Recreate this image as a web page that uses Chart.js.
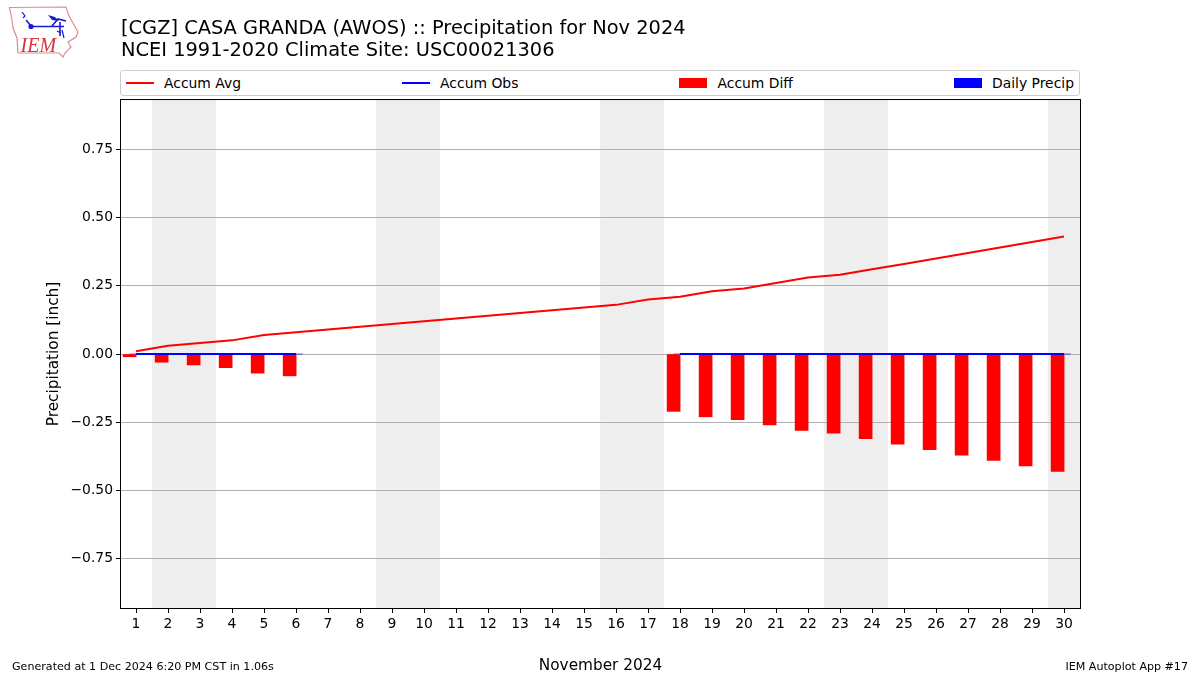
<!DOCTYPE html>
<html>
<head>
<meta charset="utf-8">
<title>Precipitation for Nov 2024</title>
<script src="https://cdn.jsdelivr.net/npm/chart.js@4"></script>
<style>
  html, body { margin: 0; padding: 0; background: #fff; }
  body { font-family: "DejaVu Sans", sans-serif; color: #000; }
  .page { position: relative; width: 1200px; height: 675px; overflow: hidden; }
  #chart { position: absolute; left: 0; top: 0; }
  .logo { position: absolute; left: 0; top: 0; }
  .legend {
    position: absolute; left: 120px; top: 70px; width: 948px; height: 24px;
    padding: 0 5px; border: 1px solid #ccc; border-radius: 3px; background: #fff;
    display: flex; justify-content: space-between; align-items: center; font-size: 13.9px;
  }
  .legend span { display: flex; align-items: center; white-space: pre; }
  .legend i { display: inline-block; width: 28px; margin-right: 10px; }
  .legend i.line { height: 2px; }
  .legend i.box { height: 10px; }
  .foot { position: absolute; top: 660px; font-size: 11.1px; line-height: 13px; }
</style>
</head>
<body>
<div class="page">
  <canvas id="chart" width="1200" height="675"></canvas>
  <svg class="logo" width="90" height="62" viewBox="0 0 90 62">
    <path d="M9.5 7.5 L66 7 L69 16 L73 23 L78 32 L76 37 L68 42 L71 47 L65 53 L63 57 L59 53 L18 53 L17 38 L13 28 L12 20 Z" fill="#fff" stroke="#e08a8f" stroke-width="1.2"/>
    <path d="M31 26.5 L64 26.5 M52 26 L58 19 L66 21 M60 22 L60 36 M26 20 L31 26" fill="none" stroke="#1a1ad6" stroke-width="1.6"/>
    <path d="M48 15 L55 17 L59 21 L52 20 Z" fill="#1a1ad6"/>
    <circle cx="31" cy="26.5" r="2.6" fill="#1a1ad6"/>
    <path d="M22 12 L25 16 L23 18 M57 31 L61 33 M62 30 L64 38" fill="none" stroke="#1a1ad6" stroke-width="1.2"/>
    <text x="20.5" y="52" font-family="Liberation Serif" font-style="italic" font-size="20" fill="#d8353d">IEM</text>
  </svg>
  <div class="legend" id="legend"></div>
  <div class="foot" style="left:12px">Generated at 1 Dec 2024 6:20 PM CST in 1.06s</div>
  <div class="foot" style="right:12px">IEM Autoplot App #17</div>
</div>
<script>
const days = [1,2,3,4,5,6,7,8,9,10,11,12,13,14,15,16,17,18,19,20,21,22,23,24,25,26,27,28,29,30];
const accumAvg = [0.01,0.03,0.04,0.05,0.07,0.08,0.09,0.10,0.11,0.12,0.13,0.14,0.15,0.16,0.17,0.18,0.20,0.21,0.23,0.24,0.26,0.28,0.29,0.31,0.33,0.35,0.37,0.39,0.41,0.43];
const accumObs = [0,0,0,0,0,0,null,null,null,null,null,null,null,null,null,null,null,0,0,0,0,0,0,0,0,0,0,0,0,0];
const accumDiff = [-0.01,-0.03,-0.04,-0.05,-0.07,-0.08,null,null,null,null,null,null,null,null,null,null,null,-0.21,-0.23,-0.24,-0.26,-0.28,-0.29,-0.31,-0.33,-0.35,-0.37,-0.39,-0.41,-0.43];
const dailyPrecip = [0,0,0,0,0,0,null,null,null,null,null,null,null,null,null,null,null,0,0,0,0,0,0,0,0,0,0,0,0,0];
const weekends = [[1.5,3.5],[8.5,10.5],[15.5,17.5],[22.5,24.5],[29.5,30.5]];
const yTicks = [-0.75,-0.5,-0.25,0,0.25,0.5,0.75];

const RED = "#ff0000", BLUE = "#0000ff";
const font = "DejaVu Sans";

// html legend, spread over the plot width like mode=expand
const legendItems = [
  ["Accum Avg", "line", RED],
  ["Accum Obs", "line", BLUE],
  ["Accum Diff", "box", RED],
  ["Daily Precip", "box", BLUE]
];
document.getElementById("legend").innerHTML = legendItems.map(
  ([name, kind, color]) => `<span><i class="${kind}" style="background:${color}"></i>${name}</span>`
).join("");

const toPoints = (values, shift) =>
  days.map((d, i) => ({ x: d + shift, y: values[i] }));

// weekend bands go under the grid lines
const bands = {
  id: "bands",
  beforeDraw(chart) {
    const { ctx, chartArea, scales } = chart;
    ctx.save();
    ctx.fillStyle = "#eeeeee";
    weekends.forEach(([from, to]) => {
      const x0 = scales.x.getPixelForValue(from);
      const x1 = scales.x.getPixelForValue(to);
      ctx.fillRect(x0, chartArea.top, x1 - x0, chartArea.bottom - chartArea.top);
    });
    ctx.restore();
  }
};

const frame = {
  id: "frame",
  afterDraw(chart) {
    const { ctx, chartArea } = chart;
    ctx.save();
    ctx.strokeStyle = "#000";
    ctx.lineWidth = 1;
    ctx.strokeRect(chartArea.left - 0.5, chartArea.top - 0.5,
      chartArea.right - chartArea.left + 1, chartArea.bottom - chartArea.top + 1);
    ctx.restore();
  }
};

new Chart(document.getElementById("chart"), {
  type: "bar",
  data: {
    datasets: [
      { type: "line", label: "Accum Avg", data: toPoints(accumAvg, 0), borderColor: RED, borderWidth: 2, pointRadius: 0, tension: 0, order: 2 },
      { type: "line", label: "Accum Obs", data: toPoints(accumObs, 0), borderColor: BLUE, borderWidth: 2, pointRadius: 0, tension: 0, spanGaps: false, order: 1 },
      { label: "Accum Diff", data: toPoints(accumDiff, -0.2), backgroundColor: RED, barThickness: 13, grouped: false, order: 3 },
      { label: "Daily Precip", data: toPoints(dailyPrecip, 0), backgroundColor: BLUE, barThickness: 13, grouped: false, order: 4 }
    ]
  },
  options: {
    responsive: false,
    animation: false,
    layout: { padding: { top: 0, right: 120, bottom: 0, left: 0 } },
    plugins: {
      legend: { display: false },
      tooltip: { enabled: false },
      title: {
        display: true,
        fullSize: false,
        align: "start",
        color: "#000",
        text: ["[CGZ] CASA GRANDA (AWOS) :: Precipitation for Nov 2024", "NCEI 1991-2020 Climate Site: USC00021306"],
        font: { family: font, size: 19.4, weight: "normal", lineHeight: 1.135 },
        padding: { top: 18, bottom: 38 }
      }
    },
    scales: {
      x: {
        type: "linear",
        min: 0.53,
        max: 30.5,
        offset: false,
        afterFit(scale) { scale.height = 67; },
        grid: { offset: false, drawOnChartArea: false, tickLength: 5, tickColor: "#000" },
        border: { display: false },
        ticks: {
          stepSize: 1,
          includeBounds: false,
          autoSkip: false,
          maxRotation: 0,
          color: "#000",
          padding: 3,
          font: { family: font, size: 13.9 }
        },
        title: { display: true, text: "November 2024", color: "#000", padding: { top: 2, bottom: 0 }, font: { family: font, size: 15.3 } }
      },
      y: {
        min: -0.93,
        max: 0.93,
        afterFit(scale) { scale.width = 121; },
        afterBuildTicks(scale) { scale.ticks = yTicks.map(v => ({ value: v })); },
        grid: { color: "#b0b0b0", lineWidth: 1, tickLength: 5, tickColor: "#000" },
        border: { display: false },
        ticks: {
          color: "#000",
          padding: 3,
          font: { family: font, size: 13.9 },
          callback: v => (v < 0 ? "\u2212" : "") + Math.abs(v).toFixed(2)
        },
        title: { display: true, text: "Precipitation [inch]", color: "#000", padding: { top: 45, bottom: 0 }, font: { family: font, size: 15.3 } }
      }
    }
  },
  plugins: [bands, frame]
});
</script>
</body>
</html>
